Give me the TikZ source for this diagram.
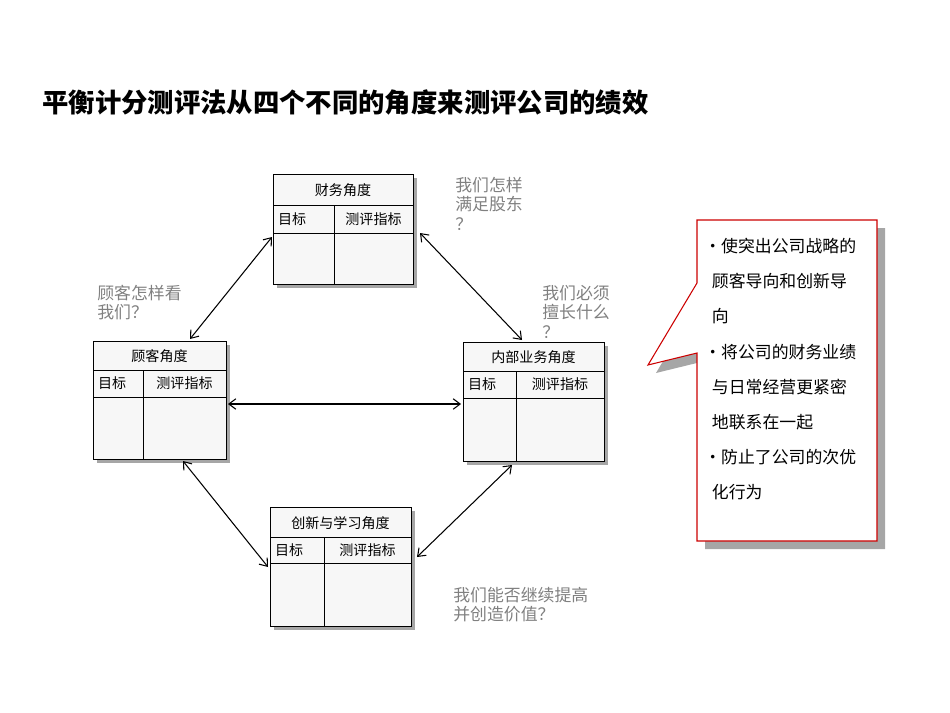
\documentclass[tikz,border=0pt]{standalone}
\usepackage{fontspec}
\setmainfont{Noto Sans CJK SC}
\usetikzlibrary{fit,calc,arrows.meta}

\tikzset{
  boxframe/.style={draw, fill=gray!6, inner sep=0pt, line width=0.5pt},
  cell/.style={font=\fontsize{8}{9.5}\selectfont, inner sep=1pt},
  link/.style={{Straight Barb[length=4pt,width=6pt]}-{Straight Barb[length=4pt,width=6pt]}, line width=0.6pt},
  question/.style={font=\fontsize{9.6}{11}\selectfont, text=gray, align=left, anchor=north west, inner sep=0pt},
}

% x1 y1 x2 y2 ytitle yhead xsplit name title
\newcommand\perspbox[9]{
  \fill[gray!70] (#1+4,#2+4) rectangle (#3+4,#4+4);
  \node[boxframe, fit={(#1,#2)(#3,#4)}] (#8) {};
  \draw[line width=0.5pt] (#1,#5) -- (#3,#5) (#1,#6) -- (#3,#6) (#7,#5) -- (#7,#4);
  \node[cell] at ({(#1+#3)/2},{(#2+#5)/2+1}) {#9};
  \node[cell, anchor=west] at (#1+3,{(#5+#6)/2}) {目标};
  \node[cell] at ({(#7+#3)/2},{(#5+#6)/2}) {测评指标};
}

\begin{document}
\begin{tikzpicture}[x=0.02cm, y=-0.02cm]
\useasboundingbox (0,0) rectangle (950,713);

% 标题
\node[anchor=west, font=\bfseries\fontsize{15}{17}\selectfont, inner sep=0pt] (title) at (42,102) {平衡计分测评法从四个不同的角度来测评公司的绩效};

% 四个角度
\perspbox{273}{174}{413}{284}{205}{233}{334}{fin}{财务角度}
\perspbox{93}{341}{226}{459}{370}{397}{143}{cust}{顾客角度}
\perspbox{463}{342}{604}{461}{371}{398}{516}{intl}{内部业务角度}
\perspbox{270}{507}{411}{626}{537}{563}{324}{innov}{创新与学习角度}

% 连线
\coordinate (finA) at (272,237);
\coordinate (finB) at (420,233);
\coordinate (custA) at (190,339);
\coordinate (custB) at (183,461);
\coordinate (custC) at (228,404);
\coordinate (intlA) at (522,340);
\coordinate (intlB) at (512,465);
\coordinate (intlC) at (461,404);
\coordinate (innovA) at (268,567);
\coordinate (innovB) at (417,557);
\draw[link] (finA) -- (custA);
\draw[link] (finB) -- (intlA);
\draw[link] (custC) -- (intlC);
\draw[link] (custB) -- (innovA);
\draw[link] (intlB) -- (innovB);

% 问题
\node[question] (q1) at (455,177) {我们怎样\\满足股东\\？};
\node[question] (q2) at (97,285) {顾客怎样看\\我们？};
\node[question] (q3) at (542,285) {我们必须\\擅长什么\\？};
\node[question] (q4) at (453,587) {我们能否继续提高\\并创造价值？};

% 说明框
\fill[gray!70] (705,228) -- (885,228) -- (885,549) -- (705,549) -- (705,361) -- (656,373) -- (705,291) -- cycle;
\draw[red!80!black, fill=white, line width=0.6pt] (697,220) -- (877,220) -- (877,541) -- (697,541) -- (697,353) -- (648,365) -- (697,283) -- cycle;
\node[anchor=north west, align=left, inner sep=0pt, font=\fontsize{9.6}{20}\selectfont] (notes) at (704,238)
  {•使突出公司战略的\\\hspace{0.45em}顾客导向和创新导\\\hspace{0.45em}向\\•将公司的财务业绩\\\hspace{0.45em}与日常经营更紧密\\\hspace{0.45em}地联系在一起\\•防止了公司的次优\\\hspace{0.45em}化行为};
\end{tikzpicture}
\end{document}
